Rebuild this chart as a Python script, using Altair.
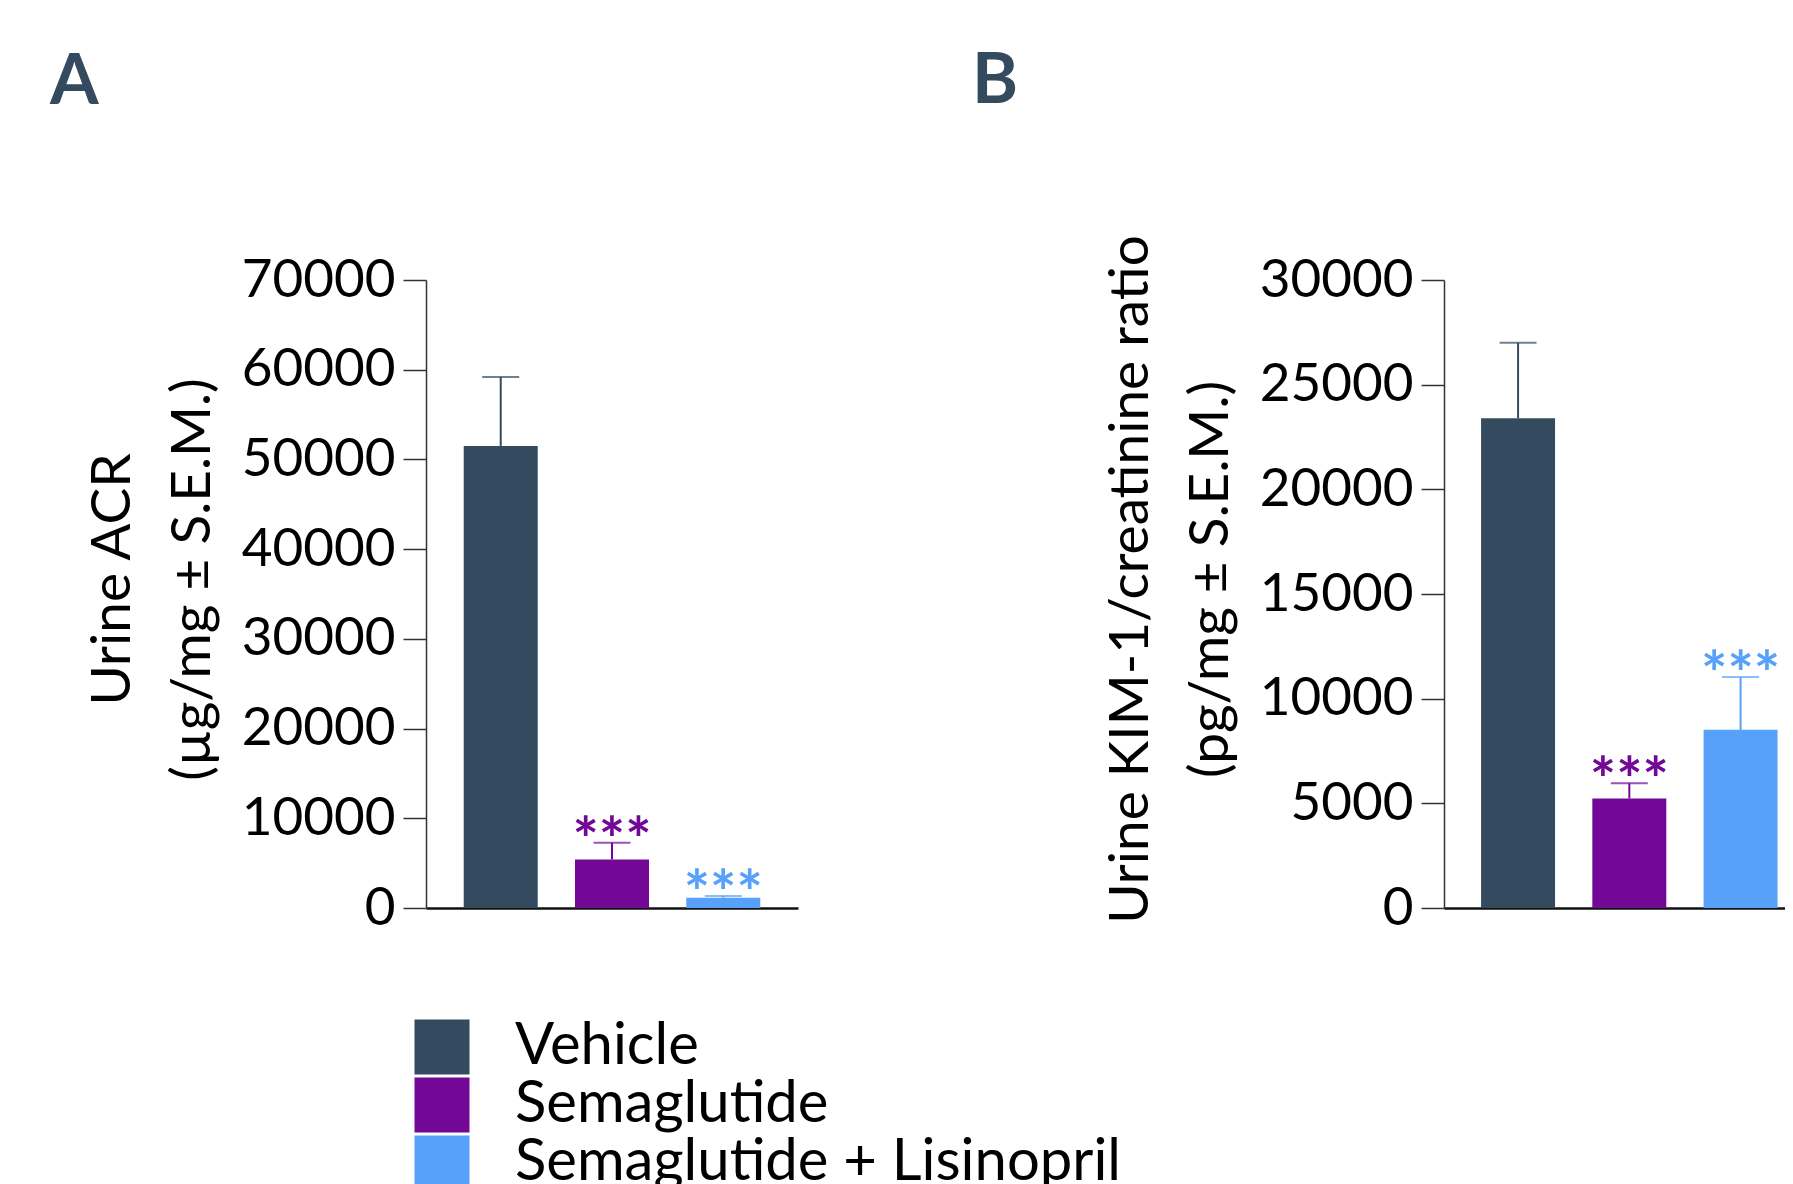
import altair as alt
import pandas as pd

# ---- data ----
groups = ["Vehicle", "Semaglutide", "Semaglutide + Lisinopril"]
colors = ["#344a5e", "#740896", "#57a1fb"]

acr_mean = [51500, 5400, 1150]
acr_upper = [59200, 7270, 1330]
acr_stars = ["", "***", "***"]
acr_ticks = [0, 10000, 20000, 30000, 40000, 50000, 60000, 70000]
acr_title = ["Urine ACR", "(µg/mg ± S.E.M.)"]

kim_mean = [23400, 5230, 8510]
kim_upper = [27000, 5960, 11030]
kim_stars = ["", "***", "***"]
kim_ticks = [0, 5000, 10000, 15000, 20000, 25000, 30000]
kim_title = ["Urine KIM-1/creatinine ratio", "(pg/mg ± S.E.M.)"]

FONT = "Lato"
INK = "#344a5e"


def panel(means, uppers, stars, ticks, ytitle, letter, xscale, width,
          title_dx, title_offset, show_legend):
    df = pd.DataFrame({"group": groups, "mean": means, "upper": uppers,
                       "stars": stars})
    cscale = alt.Scale(domain=groups, range=colors)
    if show_legend:
        leg = alt.Legend(orient="none", legendX=-13, legendY=738, title=None,
                         symbolType="square", symbolSize=3025,
                         symbolStrokeWidth=0, symbolOpacity=1,
                         labelFont=FONT, labelFontSize=58, labelColor="black",
                         labelLimit=2000, labelOffset=44, rowPadding=-1,
                         padding=0)
    else:
        leg = None
    xaxis = alt.Axis(domainColor="#111111", domainWidth=2.5,
                     ticks=False, labels=False, title=None, grid=False)
    xenc = alt.X("group:N", sort=groups, scale=xscale, axis=xaxis)
    ymax = ticks[-1]
    yscale = alt.Scale(domain=[0, ymax], nice=False, zero=True)
    yaxis = alt.Axis(values=ticks, format="d", title=ytitle, grid=False,
                     domainColor="#333333", domainWidth=1.5,
                     tickColor="#333333", tickWidth=1.5, tickSize=23,
                     labelFont=FONT, labelFontSize=53, labelColor="black",
                     labelPadding=8,
                     titleFont=FONT, titleFontSize=55, titleFontWeight="normal",
                     titleColor="black", titleAngle=270, titleAlign="center",
                     titleBaseline="alphabetic", titleLineHeight=80,
                     titleX=-297, titleY=299)
    bars = alt.Chart(df).mark_bar().encode(
        x=xenc,
        y=alt.Y("mean:Q", scale=yscale, axis=yaxis),
        color=alt.Color("group:N", scale=cscale, legend=leg),
    )
    err = alt.Chart(df).mark_rule(strokeWidth=2).encode(
        x=xenc,
        y=alt.Y("mean:Q", scale=yscale, axis=yaxis),
        y2="upper:Q",
        color=alt.Color("group:N", scale=cscale, legend=None),
    )
    cap = alt.Chart(df).mark_tick(size=37, thickness=2).encode(
        x=xenc,
        y=alt.Y("upper:Q", scale=yscale, axis=yaxis),
        color=alt.Color("group:N", scale=cscale, legend=None),
    )
    star = alt.Chart(df).mark_text(font=FONT, fontSize=62, fontWeight="bold",
                                   baseline="alphabetic", dy=19).encode(
        x=xenc,
        y=alt.Y("upper:Q", scale=yscale, axis=yaxis),
        text="stars:N",
        color=alt.Color("group:N", scale=cscale, legend=None),
    )
    return alt.layer(bars, err, cap, star).properties(
        width=width, height=628,
        title=alt.TitleParams(letter, anchor="start", frame="group",
                              dx=title_dx, offset=title_offset, fontSize=70,
                              font=FONT, fontWeight="bold", color=INK,
                              baseline="alphabetic"),
    )


panel_a = panel(acr_mean, acr_upper, acr_stars, acr_ticks, acr_title, "A",
                alt.Scale(paddingInner=0.335, paddingOuter=0.339),
                372, -376, 80, True)
panel_b = panel(kim_mean, kim_upper, kim_stars, kim_ticks, kim_title, "B",
                alt.Scale(paddingInner=0.335, paddingOuter=0.2, align=0.833),
                341, -472, 62, False)

chart = (
    alt.hconcat(panel_a, panel_b, spacing=646, bounds="flush")
    .resolve_scale(color="independent")
    .properties(padding={"left": 42, "top": 38, "right": 0, "bottom": 0})
    .configure_view(stroke=None)
)

chart.save("out.html", embed_options={"renderer": "svg", "actions": False})
